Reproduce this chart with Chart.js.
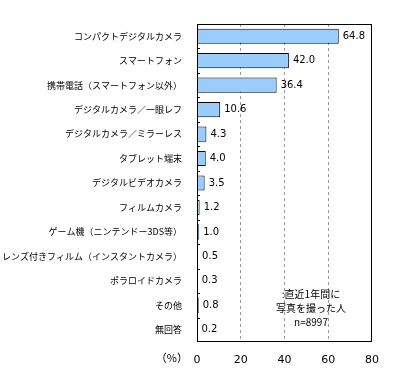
<!DOCTYPE html>
<html>
<head>
<meta charset="utf-8">
<script src="https://cdn.jsdelivr.net/npm/chart.js@4/dist/chart.umd.min.js"></script>
<style>
  html, body { margin: 0; padding: 0; background: #fff; }
  #wrap { width: 403px; height: 381px; position: relative; }
</style>
</head>
<body>
<div id="wrap"><canvas id="c" width="403" height="381"></canvas></div>
<script>
const categories = [
    'コンパクトデジタルカメラ', 'スマートフォン', '携帯電話（スマートフォン以外）',
    'デジタルカメラ／一眼レフ', 'デジタルカメラ／ミラーレス', 'タブレット端末',
    'デジタルビデオカメラ', 'フィルムカメラ', 'ゲーム機（ニンテンドー3DS等）',
    'レンズ付きフィルム（インスタントカメラ）', 'ポラロイドカメラ', 'その他', '無回答'
];
const values = [64.8, 42.0, 36.4, 10.6, 4.3, 4.0, 3.5, 1.2, 1.0, 0.5, 0.3, 0.8, 0.2];
const xTicks = [0, 20, 40, 60, 80];
const noteLines = [':直近1年間に', '写真を撮った人', 'n=8997'];
const unitLabel = '（%）';

const jpFont = '"Noto Sans CJK JP", "DejaVu Sans", sans-serif';

// frame, inner y ticks, value labels, note text
const extras = {
    id: 'extras',
    afterDatasetsDraw(chart) {
        const ctx = chart.ctx, a = chart.chartArea;
        ctx.save();
        ctx.strokeStyle = '#000';
        ctx.lineWidth = 1;
        ctx.setLineDash([]);
        ctx.strokeRect(Math.round(a.left) + 0.5, Math.round(a.top) + 0.5,
            Math.round(a.right - a.left) - 1, Math.round(a.bottom - a.top) - 1);
        // small ticks at category boundaries
        const step = (a.bottom - a.top) / categories.length;
        ctx.beginPath();
        for (let i = 1; i < categories.length; i++) {
            const yy = Math.round(a.top + step * i) + 0.5;
            ctx.moveTo(a.left, yy);
            ctx.lineTo(a.left + 3, yy);
        }
        ctx.stroke();
        // value labels
        ctx.fillStyle = '#000';
        ctx.font = '10px "DejaVu Sans", sans-serif';
        ctx.textBaseline = 'middle';
        ctx.textAlign = 'left';
        chart.getDatasetMeta(0).data.forEach((bar, i) => {
            ctx.fillText(values[i].toFixed(1), bar.x + 4, bar.y);
        });
        // note
        ctx.font = '10px ' + jpFont;
        ctx.textAlign = 'center';
        noteLines.forEach((t, i) => ctx.fillText(t, 311, 294 + i * 14));
        // unit label
        ctx.font = '11px ' + jpFont;
        ctx.textAlign = 'right';
        ctx.fillText(unitLabel, 188, 358);
        ctx.restore();
    }
};

new Chart(document.getElementById('c').getContext('2d'), {
    type: 'bar',
    data: {
        labels: categories,
        datasets: [{
            data: values,
            backgroundColor: '#99ccff',
            borderColor: '#000',
            borderWidth: 1,
            borderSkipped: 'left',
            barPercentage: 0.62,
            categoryPercentage: 1
        }]
    },
    plugins: [extras],
    options: {
        indexAxis: 'y',
        responsive: false,
        animation: false,
        layout: { padding: { top: 24, right: 31, bottom: 0, left: 0 } },
        plugins: { legend: { display: false }, tooltip: { enabled: false } },
        scales: {
            x: {
                min: 0, max: 80,
                afterBuildTicks(s) { s.ticks = xTicks.map(v => ({ value: v })); },
                afterFit(s) { s.height = 39; },
                grid: {
                    drawTicks: false,
                    color: ctx => (ctx.tick && (ctx.tick.value === 0 || ctx.tick.value === 80)) ? 'rgba(0,0,0,0)' : '#999',
                    lineWidth: 1
                },
                border: { display: false, dash: [3, 3] },
                ticks: { color: '#000', padding: 12, font: { family: '"DejaVu Sans", sans-serif', size: 11 } }
            },
            y: {
                afterFit(s) { s.width = 197; },
                grid: { display: false },
                border: { display: false },
                ticks: { color: '#000', padding: 7, autoSkip: false, font: { family: jpFont, size: 9 } }
            }
        }
    }
});
</script>
</body>
</html>
